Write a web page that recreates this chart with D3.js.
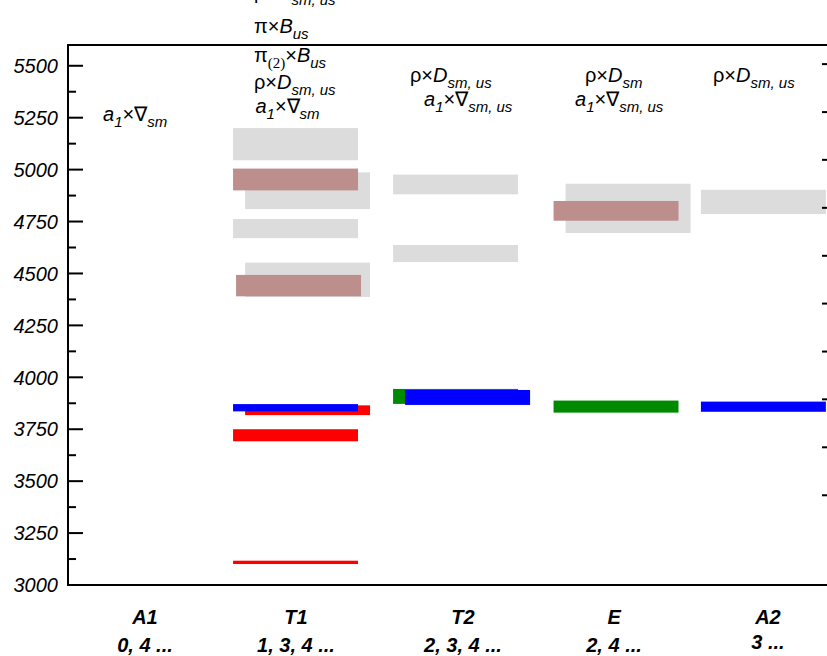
<!DOCTYPE html>
<html>
<head>
<meta charset="utf-8">
<script src="https://cdn.jsdelivr.net/npm/d3@7"></script>
<style>
  body { margin: 0; background: #fff; }
  svg { display: block; font-family: "Liberation Sans", Arial, sans-serif; }
</style>
</head>
<body>
<svg id="chart" width="827" height="656"></svg>
<script>
// categories along the x axis (positions in x-units)
const categories = ["A1", "T1", "T2", "E", "A2"];
const subLabels = ["0, 4 ...", "1, 3, 4 ...", "2, 3, 4 ...", "2, 4 ...", "3 ..."];
const catCenter = [0.5, 1.493, 2.543, 3.596, 4.563];
const labelCenter = [0.505, 1.496, 2.592, 3.583, 4.593];

// energy levels: [category, low, high, column]  (column 1 = shifted right)
const grayBars = [
  [1, 5045, 5200, 0], [1, 4810, 4987, 1], [1, 4670, 4762, 0], [1, 4387, 4552, 1],
  [2, 4881, 4976, 0], [2, 4555, 4637, 0],
  [3, 4695, 4932, 1],
  [4, 4786, 4903, 0]
];
const brownBars = [[1, 4900, 5005, 0], [1, 4390, 4493, 0.25], [3, 4754, 4849, 0]];
const redBars = [[1, 3818, 3865, 1], [1, 3692, 3750, 0], [1, 3101, 3117, 0]];
const greenBars = [[2, 3872, 3944, 0], [3, 3830, 3888, 0]];
const blueBars = [[1, 3836, 3871, 0], [2, 3867, 3939, 1], [4, 3834, 3883, 0]];

const yTicks = d3.range(3000, 5501, 250);
const yMinor = d3.range(3125, 5600, 250);
const rightTicks = [3432, 3663, 3894, 4124, 4355, 4585, 4816, 5047, 5277, 5508];

// annotation lines per category, top to bottom
// segment: [text, style]  i = italic, s = italic subscript, r = serif subscript
const notes = [
  [[["a", "i"], ["1", "s"], ["×∇"], ["sm", "s"]]],
  [
    [["ρ×"], ["D", "i"], ["sm, us", "s"]],
    [["π×"], ["B", "i"], ["us", "s"]],
    [["π"], ["(2)", "r"], ["×"], ["B", "i"], ["us", "s"]],
    [["ρ×"], ["D", "i"], ["sm, us", "s"]],
    [["a", "i"], ["1", "s"], ["×∇"], ["sm", "s"]]
  ],
  [
    [["ρ×"], ["D", "i"], ["sm, us", "s"]],
    [["a", "i"], ["1", "s"], ["×∇"], ["sm, us", "s"]]
  ],
  [
    [["ρ×"], ["D", "i"], ["sm", "s"]],
    [["a", "i"], ["1", "s"], ["×∇"], ["sm, us", "s"]]
  ],
  [[["ρ×"], ["D", "i"], ["sm, us", "s"]]]
];
// start (x-units) and baseline (px from the top) of each annotation line
const noteX = [[0.23], [1.22, 1.22, 1.22, 1.22, 1.23], [2.244, 2.336], [3.392, 3.327], [4.232]];
const noteY = [[121], [-1, 33, 62, 89, 113], [82, 106], [82, 106], [82]];

// Set Dimensions
const mLeft = 68, mRight = 830, mTop = 45, mBottom = 585;
const svg = d3.select("#chart");

const x = d3.scaleLinear().domain([0, 5]).range([mLeft, mRight]);
const y = d3.scaleLinear().domain([3000, 5600]).range([mBottom, mTop]);
const barW = 0.82, shift = 0.079;

function drawBars(data, color) {
  svg.append("g").selectAll("rect")
    .data(data)
    .join("rect")
    .attr("x", d => x(catCenter[d[0]] - barW / 2 + d[3] * shift))
    .attr("width", x(barW) - x(0))
    .attr("y", d => y(d[2]))
    .attr("height", d => y(d[1]) - y(d[2]))
    .attr("fill", color);
}
drawBars(grayBars, "#dcdcdc");
drawBars(brownBars, "#bc8f8d");
drawBars(redBars, "#ff0000");
drawBars(greenBars, "#008a00");
drawBars(blueBars, "#0000ff");

// frame
svg.append("rect")
  .attr("x", mLeft).attr("y", mTop)
  .attr("width", mRight - mLeft).attr("height", mBottom - mTop)
  .attr("fill", "none").attr("stroke", "#000").attr("stroke-width", 2);

// left axis
const gl = svg.append("g").attr("transform", `translate(${mLeft},0)`);
gl.selectAll(".maj").data(yTicks).join("line")
  .attr("x1", 0).attr("x2", 15).attr("y1", d => y(d)).attr("y2", d => y(d))
  .attr("stroke", "#000").attr("stroke-width", 2);
gl.selectAll(".min").data(yMinor).join("line")
  .attr("x1", 0).attr("x2", 8).attr("y1", d => y(d)).attr("y2", d => y(d))
  .attr("stroke", "#000").attr("stroke-width", 2);
gl.selectAll("text").data(yTicks).join("text")
  .attr("x", -10).attr("y", d => y(d)).attr("dy", "0.36em")
  .attr("text-anchor", "end")
  .style("font-size", "20px").style("font-style", "italic")
  .text(d => d);

// right axis ticks
svg.append("g").selectAll("line").data(rightTicks).join("line")
  .attr("x1", mRight).attr("x2", mRight - 8)
  .attr("y1", d => y(d)).attr("y2", d => y(d))
  .attr("stroke", "#000").attr("stroke-width", 2);

// category labels
const gx = svg.append("g")
  .style("font-size", "20px").style("font-style", "italic").style("font-weight", "bold");
gx.selectAll(".cat").data(categories).join("text")
  .attr("x", (d, i) => x(labelCenter[i])).attr("y", 624)
  .attr("text-anchor", "middle").text(d => d);
gx.selectAll(".sub").data(subLabels).join("text")
  .attr("x", (d, i) => x(labelCenter[i])).attr("y", (d, i) => i === 4 ? 649 : 652)
  .attr("text-anchor", "middle").text(d => d);

// annotations with subscripts
notes.forEach((lines, ci) => {
  lines.forEach((segs, li) => {
    const t = svg.append("text")
      .attr("x", x(noteX[ci][li]))
      .attr("y", noteY[ci][li])
      .style("font-size", "20px");
    let down = 0;
    segs.forEach(([txt, st]) => {
      const sp = t.append("tspan").text(txt);
      const isSub = st === "s" || st === "r";
      const target = isSub ? 6 : 0;
      sp.attr("dy", target - down);
      down = target;
      if (st === "i" || st === "s") sp.style("font-style", "italic");
      if (isSub) sp.style("font-size", "15px");
      if (st === "r") sp.style("font-family", "Liberation Serif, serif");
    });
  });
});
</script>
</body>
</html>
